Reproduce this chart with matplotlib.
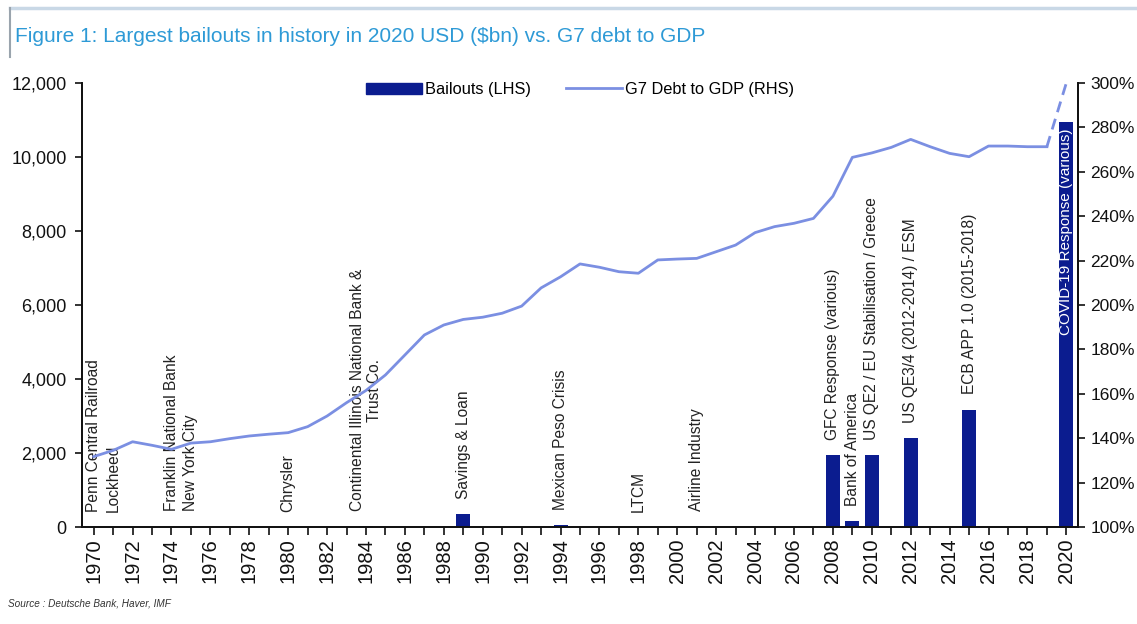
import matplotlib
matplotlib.use("Agg")
import matplotlib.pyplot as plt
from matplotlib.patches import Rectangle
from matplotlib.lines import Line2D
from matplotlib.ticker import FuncFormatter, MultipleLocator

plt.rcParams['font.family'] = ['Liberation Sans', 'DejaVu Sans']

# ---- data ----
bailout_names = [
    "Penn Central Railroad", "Lockheed", "Franklin National Bank", "New York City",
    "Chrysler", "Continental Illinois National Bank &\nTrust Co.", "Savings & Loan",
    "Mexican Peso Crisis", "LTCM", "Airline Industry", "GFC Response (various)",
    "Bank of America", "US QE2 / EU Stabilisation / Greece",
    "US QE3/4 (2012-2014) / ESM", "ECB APP 1.0 (2015-2018)",
    "COVID-19 Response (various)",
]
bailout_years = [1970, 1971, 1974, 1975, 1980, 1984, 1989, 1994, 1998, 2001,
                 2008, 2009, 2010, 2012, 2015, 2020]
bailout_values = [5, 2, 8, 10, 4, 15, 350, 55, 5, 20,
                  1950, 150, 1950, 2400, 3170, 10950]

debt_years = list(range(1970, 2020))
debt_gdp = [131.7, 134.5, 138.4, 136.8, 135.0, 137.8, 138.4, 139.8, 141.0, 141.8,
            142.5, 145.2, 150.0, 156.0, 161.5, 168.5, 177.5, 186.5, 191.0, 193.5,
            194.5, 196.3, 199.5, 207.7, 212.7, 218.5, 217.0, 215.0, 214.3, 220.3,
            220.7, 221.0, 224.0, 227.0, 232.6, 235.3, 236.8, 239.0, 249.0, 266.5,
            268.5, 271.0, 274.6, 271.3, 268.3, 266.8, 271.6, 271.6, 271.3, 271.3]
proj_years = [2019, 2020]
proj_gdp = [271.3, 300.0]

bar_color = '#0b1c8f'
line_color = '#7b8fe2'

fig = plt.figure(figsize=(11.37, 6.24), dpi=100)
ax = fig.add_axes([82/1137, 1-527/624, (1078-82)/1137, (527-83)/624])
ax2 = ax.twinx()

ax.bar(bailout_years, bailout_values, width=0.72, color=bar_color, zorder=2)

ax.set_xlim(1969.4, 2020.6)
ax.set_ylim(0, 12000)
ax2.set_ylim(100, 300)

ax2.plot(debt_years, debt_gdp, color=line_color, lw=2.0, zorder=3)
ax2.plot(proj_years, proj_gdp, color=line_color, lw=2.0, ls=(0, (4, 2.5)), zorder=3)

# annotations
for name, yr, val in zip(bailout_names, bailout_years, bailout_values):
    if yr == 2020:
        ax.annotate(name, (yr, val), xytext=(0, -5), textcoords='offset points',
                    rotation=90, ha='center', va='top', color='white',
                    fontsize=11, zorder=5)
    else:
        ax.annotate(name, (yr, val), xytext=(0, 11), textcoords='offset points',
                    rotation=90, ha='center', va='bottom', color='#222222',
                    fontsize=11.2, multialignment='center', zorder=5)

# axes styling
for a in (ax, ax2):
    a.spines['top'].set_visible(False)
    for s in ('left', 'right', 'bottom'):
        a.spines[s].set_color('#111111')
        a.spines[s].set_linewidth(1.3)
ax.yaxis.set_major_locator(MultipleLocator(2000))
ax.yaxis.set_major_formatter(FuncFormatter(lambda v, p: f"{int(v):,}"))
ax2.yaxis.set_major_locator(MultipleLocator(20))
ax2.yaxis.set_major_formatter(FuncFormatter(lambda v, p: f"{int(v)}%"))
ax.set_xticks(list(range(1970, 2021, 2)))
ax.set_xticks(list(range(1970, 2021, 1)), minor=True)
ax.set_xticklabels([str(y) for y in range(1970, 2021, 2)], rotation=90)
ax.tick_params(axis='x', which='both', direction='out', length=6, width=1.2,
               labelsize=14.5, colors='#111111', pad=2)
ax.tick_params(axis='y', direction='out', length=5, width=1.2, labelsize=13,
               colors='#111111', pad=6)
ax2.tick_params(axis='y', direction='out', length=5, width=1.2, labelsize=12.5,
                colors='#111111', pad=4)

# legend
handles = [Rectangle((0, 0), 1, 1, color=bar_color),
           Line2D([0], [0], color=line_color, lw=2.0)]
ax.legend(handles, ["Bailouts (LHS)", "G7 Debt to GDP (RHS)"], loc='upper center',
          bbox_to_anchor=(0.5, 1.035), ncol=2, frameon=False, fontsize=11.8,
          handlelength=3.4, handleheight=0.7, columnspacing=2.2, handletextpad=0.15)

# title frame
fig.add_artist(Line2D([10/1137, 1], [1-8/624, 1-8/624], color='#c9d8e6', lw=2.5,
                      transform=fig.transFigure))
fig.add_artist(Line2D([10/1137, 10/1137], [1-8/624, 1-57/624], color='#9aa4ad', lw=1.5,
                      transform=fig.transFigure))
fig.text(15/1137, 1-36/624, "Figure 1: Largest bailouts in history in 2020 USD ($bn) vs. G7 debt to GDP",
         fontsize=15.0, color='#2e9ad6', va='center', ha='left')
fig.text(8/1137, 1-604/624, "Source : Deutsche Bank, Haver, IMF", fontsize=7.2,
         style='italic', color='#333333', va='center', ha='left')

fig.savefig("out.png", dpi=100)
